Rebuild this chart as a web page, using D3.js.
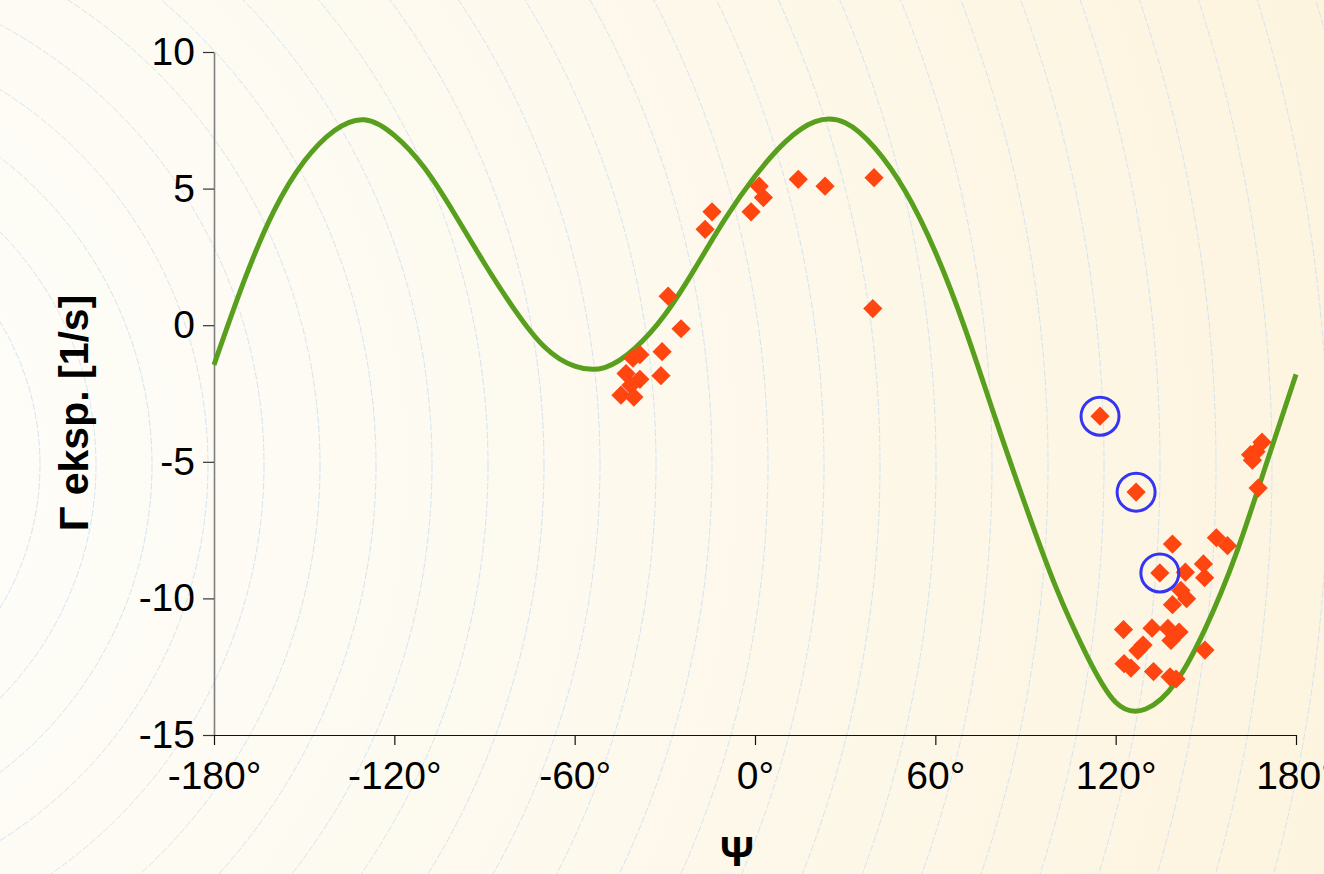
<!DOCTYPE html>
<html>
<head>
<meta charset="utf-8">
<script src="https://cdn.jsdelivr.net/npm/d3@7"></script>
<style>
  html, body { margin: 0; padding: 0; background: #fdfaf0; }
  svg { display: block; }
  text { font-family: "Liberation Sans", Arial, sans-serif; }
</style>
</head>
<body>
<svg id="chart" width="1324" height="874"></svg>
<script>
// ---- data ----
const xTicks = [-180, -120, -60, 0, 60, 120, 180];
const yTicks = [-15, -10, -5, 0, 5, 10];

// fitted curve, every 10 degrees
const curvePsi   = [-180, -170, -160, -150, -140, -130, -120, -110, -100, -90, -80, -70, -60, -50, -40, -30, -20, -10, 0, 10, 20, 30, 40, 50, 60, 70, 80, 90, 100, 110, 120, 130, 140, 150, 160, 170, 180];
const curveGamma = [-1.45, 1.62, 4.19, 6.0, 7.12, 7.52, 6.95, 5.76, 4.08, 2.26, 0.57, -0.8, -1.5, -1.55, -0.85, 0.38, 2.07, 3.88, 5.45, 6.7, 7.45, 7.41, 6.47, 4.9, 2.68, -0.16, -3.42, -6.6, -9.56, -12.0, -13.8, -14.05, -13.07, -11.06, -8.39, -5.12, -1.8];

// experimental points
const obsPsi = [
  -28.9, -24.6, -30.9, -31.3, -38.3, -40.6, -42.9, -38.3, -41.3, -44.6, -40.3,
  -14.3, -16.6, 1.4, 2.8, -1.3, 14.4, 23.3, 39.6, 39.2,
  114.8, 126.8, 134.7, 138.9, 143.2, 149.2, 149.6, 153.5, 157.2, 138.9, 141.7, 143.6,
  122.6, 132.1, 137.4, 141.1, 138.4, 129.1, 127.4, 122.8, 125.1, 132.6, 149.7, 140.1, 138.1,
  166.7, 168.7, 167.4, 164.9, 165.5
];
const obsGamma = [
  1.06, -0.13, -0.97, -1.85, -1.08, -1.21, -1.77, -1.98, -2.2, -2.56, -2.63,
  4.15, 3.51, 5.09, 4.67, 4.15, 5.34, 5.09, 5.4, 0.61,
  -3.33, -6.11, -9.07, -8.01, -9.04, -8.74, -9.24, -7.78, -8.07, -10.23, -9.71, -10.01,
  -11.14, -11.09, -11.1, -11.23, -11.54, -11.71, -11.91, -12.39, -12.55, -12.68, -11.89, -12.95, -12.87,
  -4.63, -4.28, -5.96, -4.74, -4.94
];
// circled (outlier) points
const markedPsi   = [114.8, 126.8, 134.7];
const markedGamma = [-3.33, -6.11, -9.07];

const xTitle = "Ψ";
const yTitle = "Γ eksp. [1/s]";

// ---- drawing ----
const W = 1324, H = 874;
const svg = d3.select("#chart");

// background: radial gradient + faint dashed rings
const defs = svg.append("defs");
const cx0 = -235, cy0 = 465;
const grad = defs.append("radialGradient")
  .attr("id", "bg").attr("gradientUnits", "userSpaceOnUse")
  .attr("cx", cx0).attr("cy", cy0).attr("r", 1650)
  .attr("fx", cx0).attr("fy", cy0);
grad.append("stop").attr("offset", "0").attr("stop-color", "#fefefb");
grad.append("stop").attr("offset", "0.45").attr("stop-color", "#fdfaf0");
grad.append("stop").attr("offset", "1").attr("stop-color", "#fdf4de");
svg.append("rect").attr("width", W).attr("height", H).attr("fill", "url(#bg)");

const ringRadii = d3.range(0, 30).map(k => 51 + 56 * k);
svg.append("g").selectAll("circle").data(ringRadii).join("circle")
  .attr("cx", cx0).attr("cy", cy0).attr("r", d => d)
  .attr("fill", "none").attr("stroke", "#cfe1ef")
  .attr("stroke-width", 0.9).attr("stroke-dasharray", "7,2");

const x = d3.scaleLinear().domain([-180, 180]).range([214, 1296]);
const y = d3.scaleLinear().domain([-15, 10]).range([735, 52]);

// y axis
const yAxis = svg.append("g").attr("transform", `translate(${x(-180)},0)`)
  .call(d3.axisLeft(y).tickValues(yTicks).tickSize(11).tickPadding(8).tickSizeOuter(0)
    .tickFormat(d => String(d)));
yAxis.select(".domain").attr("stroke", "#7f7f7f").attr("stroke-width", 1.6);
yAxis.selectAll(".tick line").attr("stroke", "#333").attr("stroke-width", 1.2);
yAxis.selectAll(".tick text").attr("font-size", 39).attr("fill", "#000")
  .attr("font-family", "Liberation Sans, Arial, sans-serif");

// x axis
const xAxis = svg.append("g").attr("transform", `translate(0,${y(-15)})`)
  .call(d3.axisBottom(x).tickValues(xTicks).tickSize(10).tickPadding(16).tickSizeOuter(0)
    .tickFormat(d => String(d) + "°"));
xAxis.select(".domain").attr("stroke", "#111").attr("stroke-width", 1.2);
xAxis.selectAll(".tick line").attr("stroke", "#111").attr("stroke-width", 1.2);
xAxis.selectAll(".tick text").attr("font-size", 39).attr("fill", "#000")
  .attr("font-family", "Liberation Sans, Arial, sans-serif");

// curve
const curveData = curvePsi.map((p, i) => [p, curveGamma[i]]);
svg.append("path").datum(curveData)
  .attr("fill", "none").attr("stroke", "#589f1d").attr("stroke-width", 5)
  .attr("d", d3.line().x(d => x(d[0])).y(d => y(d[1])).curve(d3.curveNatural));

// diamonds
const diamond = d3.symbol().type(d3.symbolSquare).size(185);
const obs = obsPsi.map((p, i) => [p, obsGamma[i]]);
svg.append("g").selectAll("path").data(obs).join("path")
  .attr("d", diamond)
  .attr("transform", d => `translate(${x(d[0])},${y(d[1])}) rotate(45)`)
  .attr("fill", "#ff4510");

// blue circles
const marked = markedPsi.map((p, i) => [p, markedGamma[i]]);
svg.append("g").selectAll("circle").data(marked).join("circle")
  .attr("cx", d => x(d[0])).attr("cy", d => y(d[1])).attr("r", 19)
  .attr("fill", "none").attr("stroke", "#3434f2").attr("stroke-width", 3);

// titles
svg.append("text").attr("x", 737).attr("y", 866).attr("text-anchor", "middle")
  .attr("font-size", 42).attr("font-weight", "bold").text(xTitle);
svg.append("text").attr("transform", "translate(88,413) rotate(-90)")
  .attr("text-anchor", "middle").attr("font-size", 41).attr("font-weight", "bold")
  .text(yTitle);
</script>
</body>
</html>
